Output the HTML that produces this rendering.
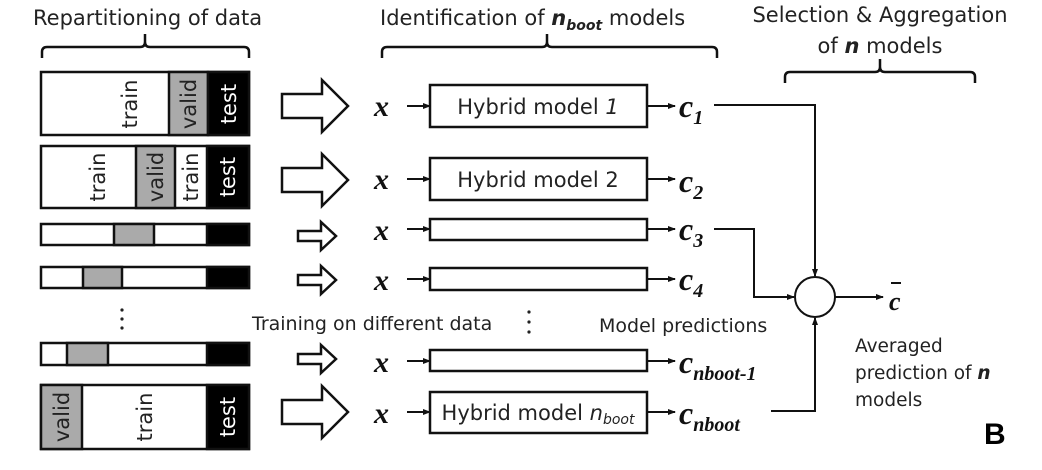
<!DOCTYPE html>
<html><head><meta charset="utf-8"><style>
body{margin:0;background:#fff;width:1042px;height:470px;overflow:hidden}
svg{display:block}
.t{font-family:"DejaVu Sans","Liberation Sans",sans-serif;fill:#222}
.m{font-family:"Liberation Serif",serif;font-style:italic;font-weight:bold;fill:#111}
</style></head><body>
<svg width="1042" height="470" viewBox="0 0 1042 470">
<defs><marker id="a" markerWidth="8" markerHeight="8" refX="7" refY="4" orient="auto" markerUnits="userSpaceOnUse"><path d="M0,1 L8,4 L0,7z" fill="#111"/></marker></defs>
<g stroke="#111" stroke-width="2.5" fill="none">
<path d="M42,58 v-6 q0,-5 5,-5 h93 q5,0 5,-5 v-8 v8 q0,5 5,5 h94 q5,0 5,5 v6"/>
<path d="M382,58 v-6 q0,-5 5,-5 h155 q5,0 5,-5 v-8 v8 q0,5 5,5 h160 q5,0 5,5 v6"/>
<path d="M785,83 v-6 q0,-5 5,-5 h85 q5,0 5,-5 v-8 v8 q0,5 5,5 h85 q5,0 5,5 v6"/>
</g>
<text class="t" x="33" y="25" font-size="21">Repartitioning of data</text>
<text class="t" x="380" y="25" font-size="21">Identification of <tspan font-weight="bold" font-style="italic">n</tspan><tspan font-weight="bold" font-style="italic" font-size="14" dy="5">boot</tspan><tspan dy="-5"> models</tspan></text>
<text class="t" x="880" y="22" font-size="21" text-anchor="middle">Selection &amp; Aggregation</text>
<text class="t" x="880" y="53" font-size="21" text-anchor="middle">of <tspan font-weight="bold" font-style="italic">n</tspan> models</text>
<g stroke="#111" stroke-width="2.5">
<rect x="41" y="72" width="208" height="63" fill="#fff"/><rect x="169" y="72" width="39" height="63" fill="#aaa"/><rect x="208" y="72" width="41" height="63" fill="#000"/>
<rect x="41" y="146" width="208" height="62" fill="#fff"/><rect x="136" y="146" width="39" height="62" fill="#aaa"/><rect x="207" y="146" width="42" height="62" fill="#000"/>
<rect x="41" y="224" width="208" height="21" fill="#fff"/><rect x="114" y="224" width="40" height="21" fill="#aaa"/><rect x="207" y="224" width="42" height="21" fill="#000"/>
<rect x="41" y="267" width="208" height="21" fill="#fff"/><rect x="83" y="267" width="39" height="21" fill="#aaa"/><rect x="207" y="267" width="42" height="21" fill="#000"/>
<rect x="41" y="343" width="208" height="22" fill="#fff"/><rect x="67" y="343" width="41" height="22" fill="#aaa"/><rect x="207" y="343" width="42" height="22" fill="#000"/>
<rect x="41" y="385" width="208" height="64" fill="#fff"/><rect x="41" y="385" width="41" height="64" fill="#aaa"/><rect x="207" y="385" width="42" height="64" fill="#000"/>
</g>
<g class="t" font-size="21">
<text transform="translate(130,104) rotate(-90)" text-anchor="middle" dy="7">train</text>
<text transform="translate(189,104) rotate(-90)" text-anchor="middle" dy="7">valid</text>
<text transform="translate(229,104) rotate(-90)" text-anchor="middle" dy="7" fill="#fff">test</text>
<text transform="translate(98,177) rotate(-90)" text-anchor="middle" dy="7">train</text>
<text transform="translate(156,177) rotate(-90)" text-anchor="middle" dy="7">valid</text>
<text transform="translate(191,177) rotate(-90)" text-anchor="middle" dy="7">train</text>
<text transform="translate(228,177) rotate(-90)" text-anchor="middle" dy="7" fill="#fff">test</text>
<text transform="translate(62,417) rotate(-90)" text-anchor="middle" dy="7">valid</text>
<text transform="translate(145,417) rotate(-90)" text-anchor="middle" dy="7">train</text>
<text transform="translate(228,417) rotate(-90)" text-anchor="middle" dy="7" fill="#fff">test</text>
</g>
<g fill="#222"><circle cx="122" cy="310" r="1.6"/><circle cx="122" cy="319" r="1.6"/><circle cx="122" cy="328" r="1.6"/>
<circle cx="529" cy="312" r="1.6"/><circle cx="529" cy="322" r="1.6"/><circle cx="529" cy="332" r="1.6"/></g>
<g stroke="#111" stroke-width="2.5" fill="#fff">
<path d="M282,94 h40 v-14 l26,26 l-26,26 v-14 h-40z"/>
<path d="M282,168 h40 v-14 l26,26 l-26,26 v-14 h-40z"/>
<path d="M298,231 h23 v-9 l15,14 l-15,14 v-9 h-23z"/>
<path d="M298,275 h23 v-9 l15,14 l-15,14 v-9 h-23z"/>
<path d="M298,354 h23 v-9 l15,14 l-15,14 v-9 h-23z"/>
<path d="M282,400 h40 v-14 l26,26 l-26,26 v-14 h-40z"/>
</g>
<text class="t" x="252" y="330" font-size="19">Training on different data</text>
<text class="t" x="599" y="332" font-size="19">Model predictions</text>
<g stroke="#111" stroke-width="2.5" fill="#fff">
<rect x="430" y="85" width="217" height="42"/>
<rect x="430" y="158" width="217" height="42"/>
<rect x="430" y="219" width="217" height="21"/>
<rect x="430" y="268" width="217" height="22"/>
<rect x="430" y="350" width="217" height="21"/>
<rect x="430" y="392" width="217" height="41"/>
</g>
<g stroke="#111" stroke-width="2" marker-end="url(#a)">
<line x1="407" y1="106" x2="430" y2="106"/><line x1="647" y1="106" x2="675" y2="106"/>
<line x1="407" y1="179" x2="430" y2="179"/><line x1="647" y1="179" x2="675" y2="179"/>
<line x1="407" y1="229" x2="430" y2="229"/><line x1="647" y1="229" x2="675" y2="229"/>
<line x1="407" y1="279" x2="430" y2="279"/><line x1="647" y1="279" x2="675" y2="279"/>
<line x1="407" y1="361" x2="430" y2="361"/><line x1="647" y1="361" x2="675" y2="361"/>
<line x1="407" y1="412" x2="430" y2="412"/><line x1="647" y1="412" x2="675" y2="412"/>
</g>
<g class="m" font-size="30">
<text x="374" y="116">x</text><text x="374" y="189">x</text><text x="374" y="240">x</text>
<text x="374" y="290">x</text><text x="374" y="372">x</text><text x="374" y="423">x</text>
</g>
<g class="t" font-size="21" text-anchor="middle">
<text x="538" y="114">Hybrid model <tspan font-style="italic">1</tspan></text>
<text x="538" y="187">Hybrid model 2</text>
<text x="538" y="420">Hybrid model <tspan font-style="italic">n</tspan><tspan font-style="italic" font-size="14" dy="4">boot</tspan></text>
</g>
<g class="m" font-size="32">
<text x="679" y="117">c<tspan font-size="20" dy="7">1</tspan></text>
<text x="679" y="192">c<tspan font-size="20" dy="7">2</tspan></text>
<text x="679" y="240">c<tspan font-size="20" dy="7">3</tspan></text>
<text x="679" y="290">c<tspan font-size="20" dy="7">4</tspan></text>
<text x="679" y="373">c<tspan font-size="20" dy="7">nboot-1</tspan></text>
<text x="679" y="424">c<tspan font-size="20" dy="7">nboot</tspan></text>
</g>
<g stroke="#111" stroke-width="2" fill="none">
<path d="M714,105 H815 V276" marker-end="url(#a)"/>
<path d="M714,229 H754 V297 H794" marker-end="url(#a)"/>
<path d="M771,411 H815 V318" marker-end="url(#a)"/>
<line x1="835" y1="297" x2="883" y2="297" marker-end="url(#a)"/>
<circle cx="815" cy="297" r="20" fill="#fff"/>
<line x1="891" y1="283" x2="901" y2="283"/>
</g>
<text class="m" x="889" y="310" font-size="26" font-weight="normal">c</text>
<g class="t" font-size="18.5">
<text x="855" y="352">Averaged</text>
<text x="855" y="379">prediction of <tspan font-weight="bold" font-style="italic">n</tspan></text>
<text x="855" y="406">models</text>
</g>
<text x="984" y="444" font-family="Liberation Sans,sans-serif" font-weight="bold" font-size="30" fill="#000">B</text>
</svg>
</body></html>
